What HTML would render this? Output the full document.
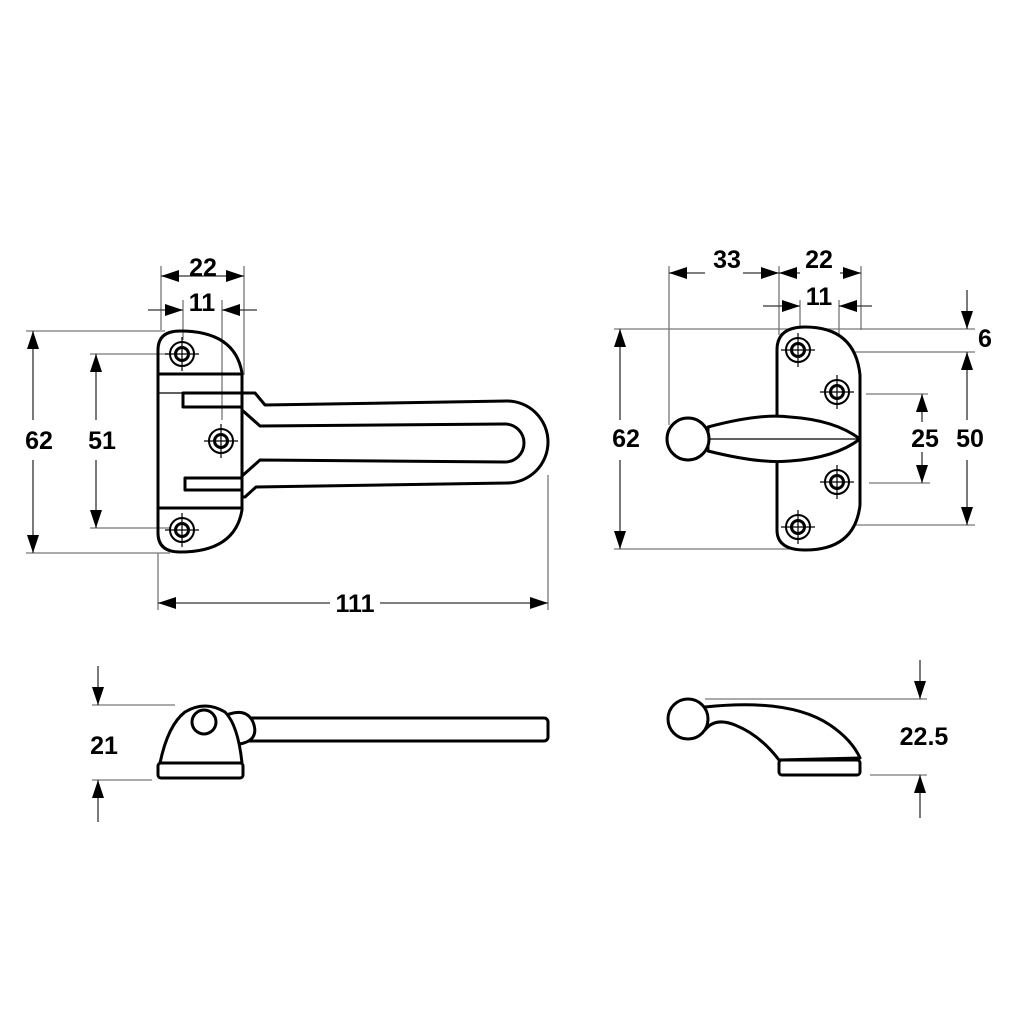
<!DOCTYPE html>
<html><head><meta charset="utf-8"><style>html,body{margin:0;padding:0;background:#fff}svg{display:block}text{font-family:"Liberation Sans",Arial,sans-serif;font-weight:bold;font-size:25px;fill:#000;text-anchor:middle}</style></head>
<body>
<svg width="1024" height="1024" viewBox="0 0 1024 1024" xmlns="http://www.w3.org/2000/svg">
<defs>
<marker id="a" viewBox="0 0 18 12" refX="18" refY="6" markerWidth="18" markerHeight="12" markerUnits="userSpaceOnUse" orient="auto"><path d="M0,0 L18,6 L0,12 z" fill="#000"/></marker>
<g id="hole"><circle r="12" fill="none" stroke="#000" stroke-width="2"/><circle r="6.5" fill="none" stroke="#000" stroke-width="3"/><line x1="-17" y1="0" x2="17" y2="0" stroke="#000" stroke-width="1.2"/><line x1="0" y1="-17" x2="0" y2="17" stroke="#000" stroke-width="1.2"/></g>
</defs>
<g stroke="#777" stroke-width="1.3" fill="none">
<line x1="161" y1="266" x2="161" y2="330"/><line x1="244" y1="266" x2="244" y2="375"/>
<line x1="183" y1="300" x2="183" y2="340"/><line x1="222" y1="300" x2="222" y2="420"/>
<line x1="26" y1="331" x2="165" y2="331"/><line x1="90" y1="354" x2="170" y2="354"/>
<line x1="90" y1="528" x2="170" y2="528"/><line x1="26" y1="553" x2="170" y2="553"/>
<line x1="158" y1="553" x2="158" y2="610"/><line x1="548" y1="475" x2="548" y2="610"/>
<line x1="92" y1="705" x2="175" y2="705"/><line x1="92" y1="780" x2="152" y2="780"/>
<line x1="669" y1="266" x2="669" y2="425"/><line x1="779" y1="266" x2="779" y2="335"/><line x1="861" y1="266" x2="861" y2="330"/>
<line x1="800" y1="300" x2="800" y2="330"/><line x1="839" y1="300" x2="839" y2="370"/>
<line x1="614" y1="329" x2="975" y2="329"/><line x1="825" y1="352" x2="975" y2="352"/>
<line x1="866" y1="394" x2="928" y2="394"/><line x1="869" y1="483" x2="930" y2="483"/>
<line x1="825" y1="525" x2="975" y2="525"/><line x1="614" y1="549" x2="790" y2="549"/>
<line x1="705" y1="699" x2="927" y2="699"/><line x1="870" y1="775" x2="927" y2="775"/>
</g>
<g stroke="#333" stroke-width="1.3" fill="none">
<line x1="202" y1="276" x2="161" y2="276" marker-end="url(#a)"/><line x1="202" y1="276" x2="244" y2="276" marker-end="url(#a)"/>
<line x1="148" y1="310" x2="183" y2="310" marker-end="url(#a)"/><line x1="257" y1="310" x2="222" y2="310" marker-end="url(#a)"/>
<line x1="33" y1="420" x2="33" y2="331" marker-end="url(#a)"/><line x1="33" y1="460" x2="33" y2="553" marker-end="url(#a)"/>
<line x1="96" y1="420" x2="96" y2="354" marker-end="url(#a)"/><line x1="96" y1="460" x2="96" y2="528" marker-end="url(#a)"/>
<line x1="330" y1="603" x2="158" y2="603" marker-end="url(#a)"/><line x1="380" y1="603" x2="548" y2="603" marker-end="url(#a)"/>
<line x1="98" y1="666" x2="98" y2="705" marker-end="url(#a)"/><line x1="98" y1="822" x2="98" y2="780" marker-end="url(#a)"/>
<line x1="705" y1="273" x2="669" y2="273" marker-end="url(#a)"/><line x1="743" y1="273" x2="779" y2="273" marker-end="url(#a)"/>
<line x1="800" y1="273" x2="779" y2="273" marker-end="url(#a)"/><line x1="840" y1="273" x2="861" y2="273" marker-end="url(#a)"/>
<line x1="763" y1="306" x2="800" y2="306" marker-end="url(#a)"/><line x1="872" y1="306" x2="839" y2="306" marker-end="url(#a)"/>
<line x1="620" y1="420" x2="620" y2="329" marker-end="url(#a)"/><line x1="620" y1="460" x2="620" y2="549" marker-end="url(#a)"/>
<line x1="967" y1="290" x2="967" y2="329" marker-end="url(#a)"/>
<line x1="967" y1="420" x2="967" y2="352" marker-end="url(#a)"/><line x1="967" y1="460" x2="967" y2="525" marker-end="url(#a)"/>
<line x1="922" y1="422" x2="922" y2="394" marker-end="url(#a)"/><line x1="922" y1="452" x2="922" y2="483" marker-end="url(#a)"/>
<line x1="920" y1="660" x2="920" y2="699" marker-end="url(#a)"/><line x1="920" y1="818" x2="920" y2="775" marker-end="url(#a)"/>
</g>
<text x="203" y="276">22</text><text x="202" y="311">11</text>
<text x="39" y="449">62</text><text x="102" y="449">51</text>
<text x="355" y="612">111</text><text x="104" y="754">21</text>
<text x="727" y="268">33</text><text x="819" y="268">22</text><text x="819" y="305">11</text>
<text x="626" y="447">62</text><text x="985" y="347">6</text><text x="970" y="447">50</text><text x="925" y="447">25</text>
<text x="924" y="745">22.5</text>
<g stroke="#000" stroke-width="3" fill="none" stroke-linejoin="round">
<path d="M158,350 Q158,331 180,331 Q235,331 242,373 L242,510 Q235,552 180,552 Q158,552 158,533 Z"/>
<line x1="158" y1="374" x2="242" y2="374"/><line x1="158" y1="508" x2="242" y2="508"/>
<line x1="158" y1="393" x2="242" y2="393" stroke-width="1.2"/>
<path d="M242,393 L183,393 L183,407 L242,407"/>
<path d="M242,478 L185,478 L185,490 L242,490"/>
<path d="M242,393 L255,393 L265,405 L507,401 A41 41 0 0 1 507,483 L256,487 L245,497 L242,497"/>
<path d="M242,410 L260,426 L505,424 A19 19 0 0 1 505,462 L260,460 L242,476"/>
</g>
<use href="#hole" x="182" y="354"/><use href="#hole" x="221" y="441"/><use href="#hole" x="182" y="530"/>
<g stroke="#000" stroke-width="3" fill="#fff" stroke-linejoin="round">
<path d="M777,350 Q777,327 805,327 Q855,327 860,375 L860,505 Q855,550 805,550 Q777,550 777,530 Z"/>
<path d="M708,427 Q760,413 790,417 Q835,420 860,439 Q835,458 790,461 Q760,464 708,451 Z"/>
<line x1="708" y1="439" x2="860" y2="439" stroke-width="1.2"/>
<circle cx="688" cy="439" r="21"/>
</g>
<use href="#hole" x="798" y="350"/><use href="#hole" x="837" y="392"/><use href="#hole" x="837" y="482"/><use href="#hole" x="798" y="527"/>
<g stroke="#000" stroke-width="3" fill="#fff" stroke-linejoin="round">
<rect x="243" y="718" width="305" height="23" rx="4"/>
<path d="M220,718 Q245,705 253,722 Q260,740 240,744 Z"/>
<path d="M160,763 Q168,725 185,712 Q205,700 225,712 Q238,725 242,763 Z"/>
<rect x="158" y="763" width="85" height="15" rx="3"/>
<circle cx="204" cy="722" r="12"/>
</g>
<g stroke="#000" stroke-width="3" fill="#fff" stroke-linejoin="round">
<path d="M705,707 Q790,698 830,725 Q852,740 860,758 L779,760 Q760,735 735,725 Q715,717 705,730 Z"/>
<rect x="779" y="760" width="81" height="15" rx="3"/>
<circle cx="688" cy="719" r="20"/>
</g>
</svg>
</body></html>
